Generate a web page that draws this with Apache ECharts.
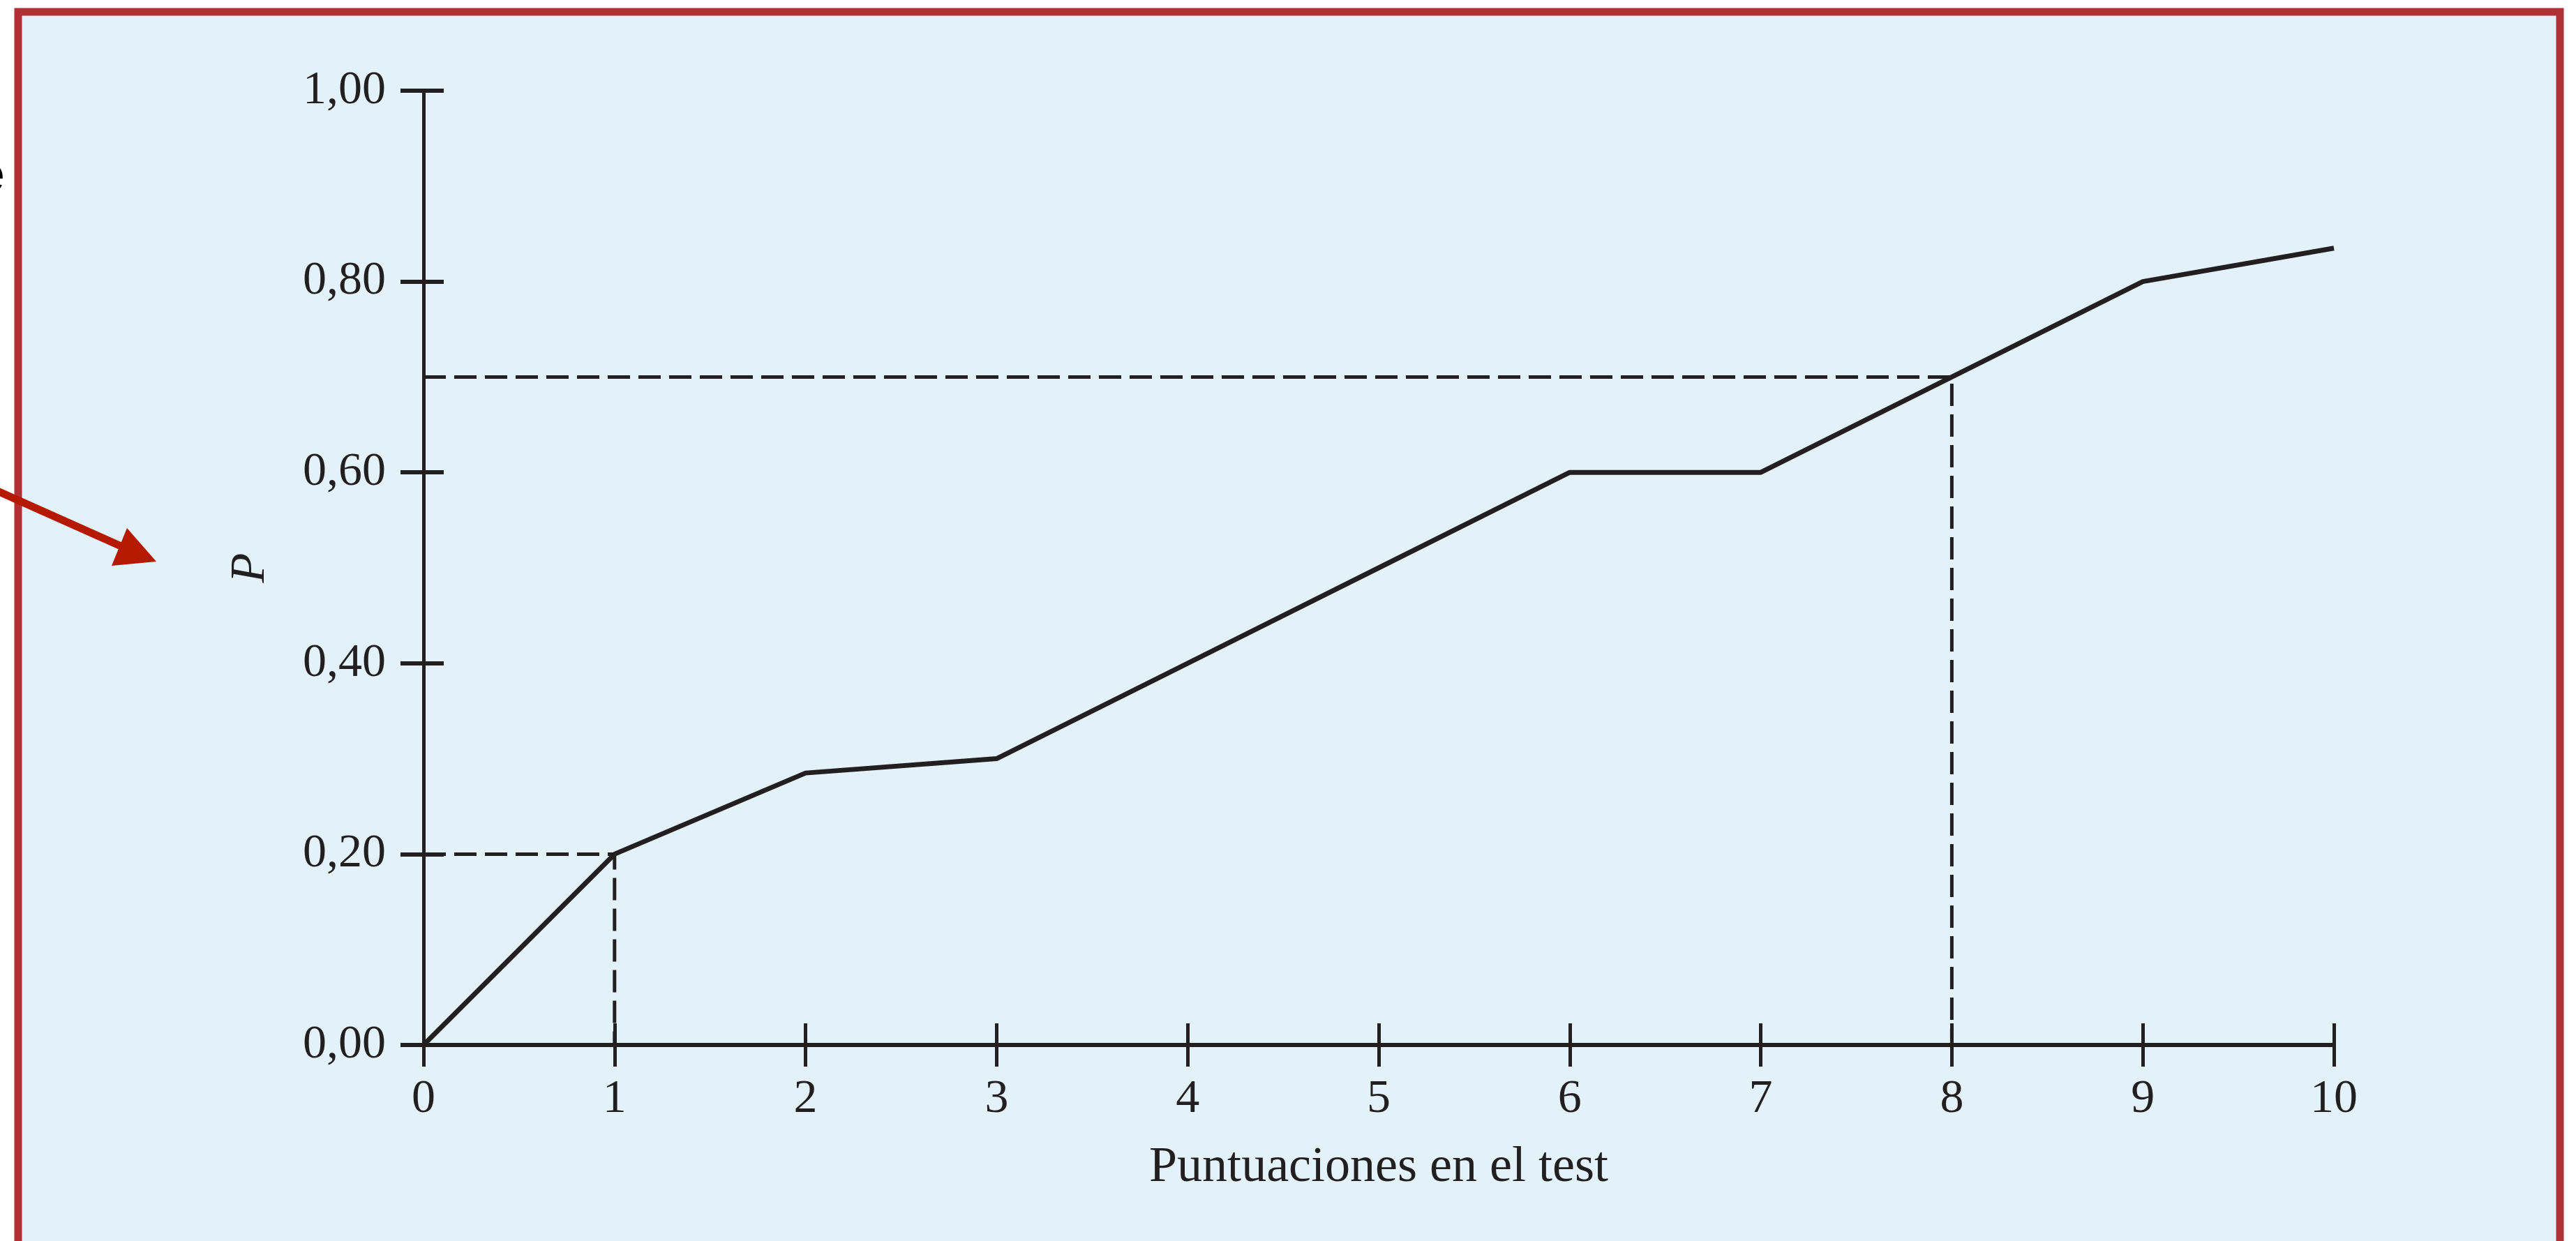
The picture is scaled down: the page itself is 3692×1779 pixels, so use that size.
<!DOCTYPE html>
<html>
<head>
<meta charset="utf-8">
<style>
html,body{margin:0;padding:0;background:#ffffff;}
#chart{width:3692px;height:1779px;}
</style>
<script src="https://cdn.jsdelivr.net/npm/echarts@6/dist/echarts.min.js"></script>
</head>
<body>
<div id="chart"></div>
<script>
// ---- data ----
var scores = [0, 1, 2, 3, 4, 5, 6, 7, 8, 9, 10];
var pValues = [0.00, 0.20, 0.285, 0.30, 0.40, 0.50, 0.60, 0.60, 0.70, 0.80, 0.835];
var guideLow = [[0, 0.20], [1, 0.20], [1, 0]];
var guideHigh = [[0, 0.70], [8, 0.70], [8, 0]];
var yTickLabels = ['0,00', '0,20', '0,40', '0,60', '0,80', '1,00'];
var xName = 'Puntuaciones en el test';
var yName = 'P';

var ink = '#231F20';
var serif = '"Liberation Serif", "DejaVu Serif", serif';

var chart = echarts.init(document.getElementById('chart'), null, {renderer: 'canvas'});

function yLabel(v) {
  var idx = Math.round(v / 0.2);
  return yTickLabels[idx] !== undefined ? yTickLabels[idx] : '';
}

var option = {
  backgroundColor: '#ffffff',
  animation: false,
  grid: {left: 607, right: 347, top: 130, bottom: 281, containLabel: false},
  xAxis: [
    {
      type: 'value', min: 0, max: 10, interval: 1, position: 'bottom',
      name: xName, nameLocation: 'middle', nameGap: 140,
      nameTextStyle: {fontFamily: serif, fontSize: 72, color: ink},
      axisLine: {show: true, onZero: false, lineStyle: {color: ink, width: 6}},
      axisTick: {show: true, inside: false, length: 31, lineStyle: {color: ink, width: 5}},
      axisLabel: {show: true, margin: 44, fontFamily: serif, fontSize: 68, color: ink},
      splitLine: {show: false}
    },
    {
      type: 'value', min: 0, max: 10, interval: 1, position: 'bottom',
      axisLine: {show: false, onZero: false},
      axisTick: {show: true, inside: true, length: 31, lineStyle: {color: ink, width: 5}},
      axisLabel: {show: false},
      splitLine: {show: false}
    }
  ],
  yAxis: [
    {
      type: 'value', min: 0, max: 1, interval: 0.2, position: 'left',
      name: yName, nameLocation: 'middle', nameGap: 212, nameRotate: 90,
      nameTextStyle: {fontFamily: serif, fontSize: 70, fontStyle: 'italic', color: ink},
      axisLine: {show: true, onZero: false, lineStyle: {color: ink, width: 5}},
      axisTick: {show: true, inside: false, length: 33, lineStyle: {color: ink, width: 6}},
      axisLabel: {show: true, margin: 54, fontFamily: serif, fontSize: 68, color: ink, formatter: yLabel},
      splitLine: {show: false}
    },
    {
      type: 'value', min: 0, max: 1, interval: 0.2, position: 'left',
      axisLine: {show: false, onZero: false},
      axisTick: {show: true, inside: true, length: 29, lineStyle: {color: ink, width: 6}},
      axisLabel: {show: false},
      splitLine: {show: false}
    }
  ],
  graphic: [
    {
      type: 'rect', z: -100, silent: true,
      shape: {x: 26, y: 17, width: 3643, height: 1820},
      style: {fill: '#E3F2F8', stroke: '#B03035', lineWidth: 11}
    },
    {
      type: 'text', z: 10, silent: true,
      style: {text: 'e', x: -33, y: 290, fontFamily: '"Liberation Sans", Arial, sans-serif', fontSize: 72, fill: '#000000', verticalAlign: 'bottom', align: 'left'}
    },
    {
      type: 'line', z: 10, silent: true,
      shape: {x1: -10, y1: 701, x2: 178, y2: 785},
      style: {stroke: '#B51A00', lineWidth: 11}
    },
    {
      type: 'polygon', z: 10, silent: true,
      shape: {points: [[224, 805], [182, 757], [160, 811]]},
      style: {fill: '#B51A00'}
    }
  ],
  series: [
    {
      type: 'line', xAxisIndex: 0, yAxisIndex: 0,
      data: guideLow, symbol: 'none', silent: true, z: 3,
      lineStyle: {color: ink, width: 5, type: [32, 12]}
    },
    {
      type: 'line', xAxisIndex: 0, yAxisIndex: 0,
      data: guideHigh, symbol: 'none', silent: true, z: 3,
      lineStyle: {color: ink, width: 5, type: [32, 12]}
    },
    {
      type: 'line', xAxisIndex: 0, yAxisIndex: 0,
      data: scores.map(function (s, i) { return [s, pValues[i]]; }),
      symbol: 'none', silent: true, z: 4,
      lineStyle: {color: ink, width: 7}
    }
  ]
};
chart.setOption(option);
</script>
</body>
</html>
